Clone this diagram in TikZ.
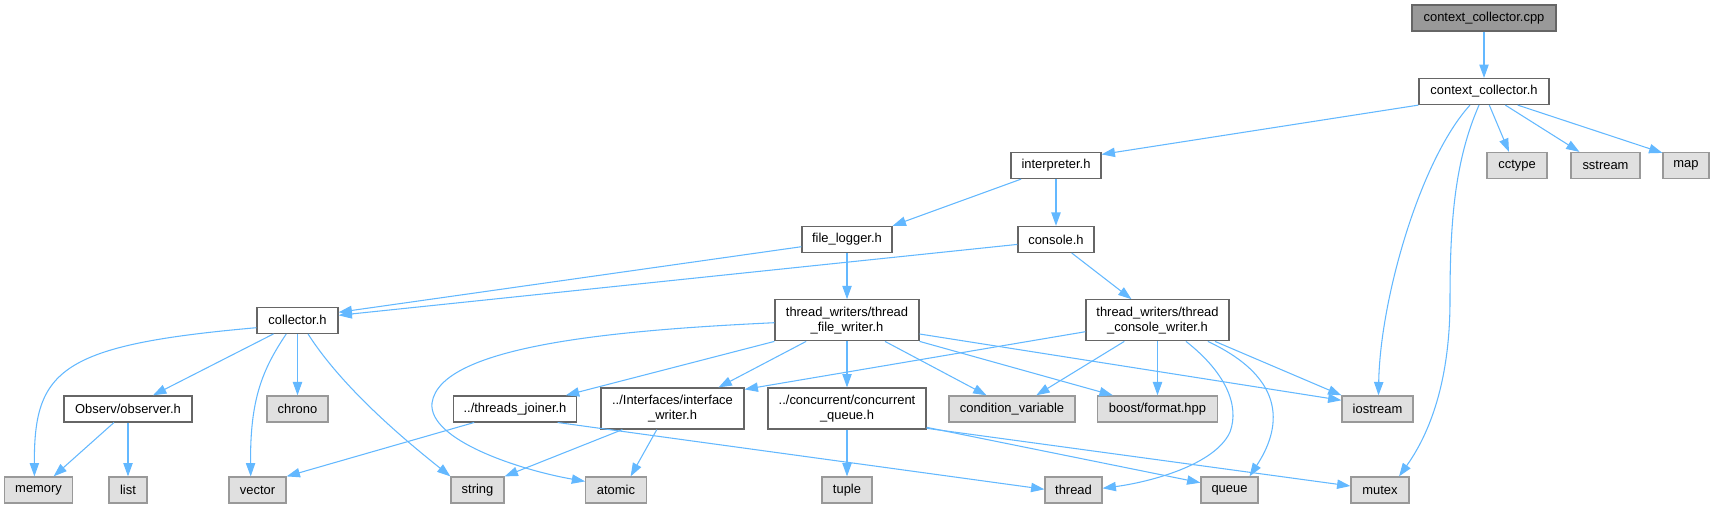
\documentclass[tikz,border=0pt]{standalone}
\usepackage{fontspec}
\setmainfont{Liberation Sans}
\usetikzlibrary{arrows.meta,calc}
\definecolor{edgec}{HTML}{63B8FF}
\definecolor{wborder}{HTML}{666666}
\definecolor{gborder}{HTML}{999999}
\definecolor{gfill}{HTML}{E0E0E0}
\definecolor{rootfill}{HTML}{999999}
\begin{document}
\begin{tikzpicture}[x=0.75pt,y=-0.75pt,
  box/.style={draw, line width=0.9pt, inner sep=0pt, minimum height=19.5pt, font=\fontsize{9.7}{11.25}\selectfont, align=center},
  hnode/.style={box, draw=wborder, fill=white},
  snode/.style={box, draw=gborder, fill=gfill},
  rnode/.style={box, draw=wborder, fill=rootfill},
  two/.style={minimum height=30.75pt},
  dep/.style={draw=edgec, line width=0.8pt, -{Triangle[length=10pt,width=7pt]}}
]
\useasboundingbox (0,0) rectangle (1716,508);
% row 0
\node[rnode, minimum width=108pt] (ccpp) at (1484,18) {context\_collector.cpp};
% row 1
\node[hnode, minimum width=97.5pt] (cch) at (1484,91.5) {context\_collector.h};
% row 2
\node[hnode, minimum width=67.5pt] (interp) at (1056,165.5) {interpreter.h};
\node[snode, minimum width=45pt] (cctype) at (1517,165.5) {cctype};
\node[snode, minimum width=51.75pt] (sstream) at (1605.5,165.5) {sstream};
\node[snode, minimum width=34.5pt] (map) at (1686,165.5) {map};
% row 3
\node[hnode, minimum width=67.5pt] (flog) at (847,239.4) {file\_logger.h};
\node[hnode, minimum width=57pt] (console) at (1056,239.4) {console.h};
% row 4
\node[hnode, minimum width=60.75pt] (coll) at (297.5,320.3) {collector.h};
\node[hnode, two, minimum width=108pt] (tfw) at (847,320.3) {thread\_writers/thread\\\_file\_writer.h};
\node[hnode, two, minimum width=107.25pt] (tcw) at (1157.5,320.3) {thread\_writers/thread\\\_console\_writer.h};
% row 5
\node[hnode, minimum width=96pt] (obs) at (128,408.9) {Observ/observer.h};
\node[snode, minimum width=45.75pt] (chrono) at (297.5,408.9) {chrono};
\node[hnode, minimum width=91.9pt] (tj) at (515,408.9) {../threads\_joiner.h};
\node[hnode, two, minimum width=107.25pt] (iw) at (672.5,408.5) {../Interfaces/interface\\\_writer.h};
\node[hnode, two, minimum width=118.5pt] (cq) at (847,408.5) {../concurrent/concurrent\\\_queue.h};
\node[snode, minimum width=94.5pt] (cv) at (1012,408.9) {condition\_variable};
\node[snode, minimum width=89.6pt] (boost) at (1157.5,408.9) {boost/format.hpp};
\node[snode, minimum width=53.25pt] (iostream) at (1377.5,408.9) {iostream};
% row 6
\node[snode, minimum width=51pt] (memory) at (38.6,490) {memory};
\node[snode, minimum width=28.5pt] (list) at (128,490) {list};
\node[snode, minimum width=42.75pt] (vector) at (257.5,490) {vector};
\node[snode, minimum width=39.75pt] (string) at (477.5,490) {string};
\node[snode, minimum width=45.4pt] (atomic) at (616,490) {atomic};
\node[snode, minimum width=37.5pt] (tuple) at (847,490) {tuple};
\node[snode, minimum width=42.75pt] (thread) at (1073.5,490) {thread};
\node[snode, minimum width=42.75pt] (queue) at (1229.5,490) {queue};
\node[snode, minimum width=43.5pt] (mutex) at (1380,490) {mutex};

% edges
\draw[dep] (ccpp.south) -- (cch.north);
\draw[dep] (cch.south west) -- ($(interp.north east)+(0,2.5)$);
\draw[dep] ($(cch.south)+(-14,0)$) .. controls (1420,160) and (1380,300) .. ($(iostream.north)+(1,0)$);
\draw[dep] ($(cch.south)+(-5,0)$) .. controls (1455,160) and (1450,220) .. (1450,300) .. controls (1450,390) and (1425,440) .. ($(mutex.north)+(19,0)$);
\draw[dep] ($(cch.south)+(5.3,0)$) -- ($(cctype.north)+(-8,0)$);
\draw[dep] ($(cch.south)+(21.3,0)$) -- ($(sstream.north)+(-26,0)$);
\draw[dep] ($(cch.south)+(33.7,0)$) -- ($(map.north west)+(0,1)$);

\draw[dep] ($(interp.south west)+(10.7,0)$) -- (flog.north east);
\draw[dep] (interp.south) -- (console.north);

\draw[dep] ($(flog.west)+(0,7.3)$) -- ($(coll.east)+(0,-8)$);
\draw[dep] (flog.south) -- (tfw.north);
\draw[dep] ($(console.west)+(0,5)$) -- ($(coll.east)+(0,-5)$);
\draw[dep] ($(console.south)+(15.7,0)$) -- ($(tcw.north)+(-26,0)$);

\draw[dep] ($(coll.west)+(0,7.4)$) .. controls (60,345) and (34,370) .. ($(memory.north)+(-4.2,0)$);
\draw[dep] ($(coll.south)+(-24,0)$) -- ($(obs.north)+(25,0)$);
\draw[dep] ($(coll.south)+(-11.2,0)$) .. controls (262,370) and (250,400) .. ($(vector.north)+(-6.8,0)$);
\draw[dep] (coll.south) -- (chrono.north);
\draw[dep] ($(coll.south)+(10.5,0)$) .. controls (345,392) and (415,448) .. ($(string.north west)+(0,0)$);

\draw[dep] ($(obs.south)+(-14,0)$) -- ($(memory.north)+(15,0)$);
\draw[dep] (obs.south) -- (list.north);

\draw[dep] ($(tfw.west)+(0,2.4)$) .. controls (620,330) and (440,345) .. (432,403) .. controls (428,440) and (520,470) .. ($(atomic.north west)+(0,5)$);
\draw[dep] (tfw.south west) -- ($(tj.north east)+(-11,0)$);
\draw[dep] ($(tfw.south west)+(31.7,0)$) -- ($(iw.north)+(46,0)$);
\draw[dep] (tfw.south) -- (cq.north);
\draw[dep] ($(tfw.south)+(38,0)$) -- ($(cv.north)+(-25.5,0)$);
\draw[dep] (tfw.south east) -- ($(boost.north)+(-44.7,0)$);
\draw[dep] ($(tfw.east)+(0,13.7)$) -- ($(iostream.north west)+(0,5)$);

\draw[dep] ($(tcw.west)+(0,11.4)$) -- ($(iw.north east)+(0,2)$);
\draw[dep] ($(tcw.south)+(-33.2,0)$) -- ($(cv.north)+(24.3,0)$);
\draw[dep] (tcw.south) -- (boost.north);
\draw[dep] ($(tcw.south)+(28.5,0)$) .. controls (1225,372) and (1240,405) .. (1230,432) .. controls (1215,465) and (1150,482) .. ($(thread.east)+(0,-1.7)$);
\draw[dep] ($(tcw.south)+(50.3,0)$) .. controls (1290,380) and (1280,430) .. ($(queue.north)+(20,0)$);
\draw[dep] ($(tcw.south)+(57.5,0)$) -- (iostream.north west);

\draw[dep] ($(tj.south west)+(21,0)$) -- (vector.north east);
\draw[dep] ($(tj.south east)+(-19.2,0)$) -- ($(thread.west)+(0,-0.7)$);

\draw[dep] ($(iw.south west)+(22,0)$) -- (string.north east);
\draw[dep] ($(iw.south west)+(56.4,0)$) -- ($(atomic.north)+(14.6,0)$);

\draw[dep] (cq.south) -- (tuple.north);
\draw[dep] ($(cq.south east)+(0,-2.3)$) -- ($(queue.west)+(0,-7.3)$);
\draw[dep] ($(cq.south east)+(0,-1.3)$) -- ($(mutex.west)+(0,-4)$);
\end{tikzpicture}
\end{document}
